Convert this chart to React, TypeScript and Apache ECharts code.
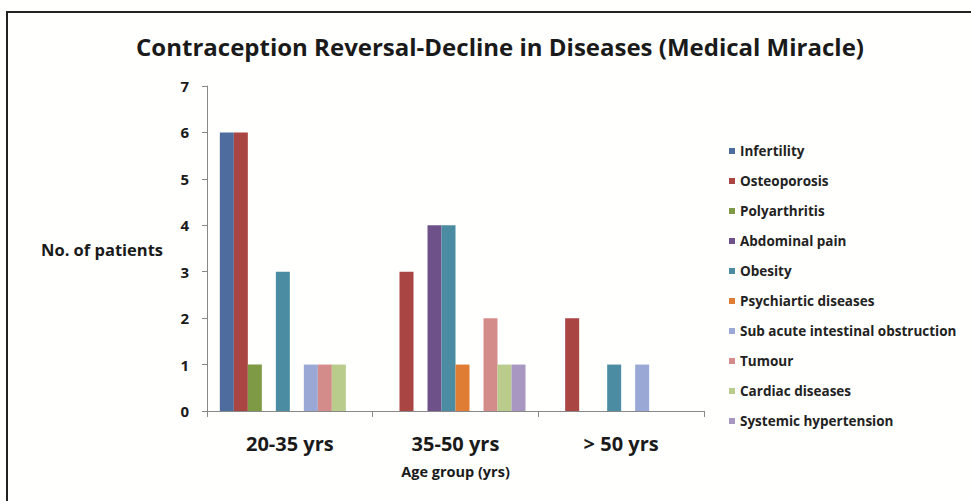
import React, { useEffect, useRef } from "react";
import * as echarts from "echarts";

const categories = ["20-35 yrs", "35-50 yrs", "> 50 yrs"];
const seriesNames = [
  "Infertility",
  "Osteoporosis",
  "Polyarthritis",
  "Abdominal pain",
  "Obesity",
  "Psychiartic diseases",
  "Sub acute intestinal obstruction",
  "Tumour",
  "Cardiac diseases",
  "Systemic hypertension",
];
const infertility = [6, 0, 0];
const osteoporosis = [6, 3, 2];
const polyarthritis = [1, 0, 0];
const abdominalPain = [0, 4, 0];
const obesity = [3, 4, 1];
const psychiartic = [0, 1, 0];
const subAcute = [1, 0, 1];
const tumour = [1, 2, 0];
const cardiac = [1, 1, 0];
const systemic = [0, 1, 0];
const seriesValues = [infertility, osteoporosis, polyarthritis, abdominalPain, obesity, psychiartic, subAcute, tumour, cardiac, systemic];
const colors = ["#4f6c9e", "#a94543", "#7f9a45", "#6e5188", "#4b8ca3", "#e07d35", "#9aa8d6", "#d48c8a", "#b9cc8c", "#a897c0"];
const yTicks = [0, 1, 2, 3, 4, 5, 6, 7];

export default function App() {
  const ref = useRef<HTMLDivElement>(null);
  useEffect(() => {
    document.body.style.margin = "0";
    const chart = echarts.init(ref.current!, null, { renderer: "svg" });
    const font = "'Open Sans', sans-serif";
    chart.setOption({
      animation: false,
      backgroundColor: "#fffffd",
      textStyle: { fontFamily: font },
      title: {
        text: "Contraception Reversal-Decline in Diseases (Medical Miracle)",
        left: 495,
        textAlign: "center",
        top: 29,
        textStyle: { fontFamily: font, fontWeight: "bold", fontSize: 24, color: "#1a1a1a" },
      },
      graphic: [
        {
          type: "rect",
          shape: { x: 7, y: 12, width: 1000, height: 520 },
          style: { fill: "none", stroke: "#222", lineWidth: 2 },
          silent: true,
        },
        {
          type: "text",
          x: 41,
          y: 249,
          style: { text: "No. of patients", font: `bold 16.5px ${font}`, fill: "#1a1a1a", textVerticalAlign: "middle" },
        },
      ],
      legend: {
        orient: "vertical",
        left: 724,
        top: 139,
        itemWidth: 6,
        itemHeight: 6,
        itemGap: 16,
        icon: "rect",
        data: seriesNames,
        textStyle: { fontFamily: font, fontWeight: "bold", fontSize: 13.5, lineHeight: 14, color: "#222" },
      },
      grid: { left: 207, right: 267, top: 86, bottom: 90, containLabel: false },
      xAxis: {
        type: "category",
        data: categories,
        axisLine: { lineStyle: { color: "#888" } },
        axisTick: { show: true, alignWithLabel: false, length: 6, lineStyle: { color: "#888" } },
        axisLabel: { fontFamily: font, fontWeight: "bold", fontSize: 20, color: "#1a1a1a", margin: 22 },
        name: "Age group (yrs)",
        nameLocation: "middle",
        nameGap: 53,
        nameTextStyle: { fontFamily: font, fontWeight: "bold", fontSize: 14.5, color: "#1a1a1a" },
      },
      yAxis: {
        type: "value",
        min: 0,
        max: 7,
        interval: 1,
        axisLine: { show: true, lineStyle: { color: "#888" } },
        axisTick: { show: true, length: 5, lineStyle: { color: "#888" } },
        splitLine: { show: false },
        axisLabel: {
          fontFamily: font,
          fontWeight: "bold",
          fontSize: 15,
          color: "#1a1a1a",
          margin: 18,
          formatter: (v: number) => (yTicks.includes(v) ? String(v) : ""),
        },
      },
      series: seriesNames.map((name, i) => ({
        name,
        type: "bar",
        data: seriesValues[i],
        barWidth: 14,
        barGap: "0%",
        itemStyle: { color: colors[i] },
      })),
    });
    return () => chart.dispose();
  }, []);
  return <div ref={ref} style={{ width: 971, height: 501 }} />;
}
